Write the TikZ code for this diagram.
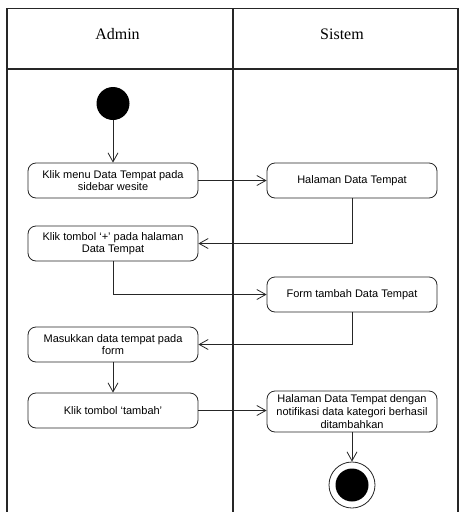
\documentclass[tikz,border=0pt]{standalone}
\usepackage{fontspec}
\setmainfont{Liberation Serif}
\newfontfamily\arialf[Ligatures=TeX]{Liberation Sans}
\usetikzlibrary{arrows.meta}
\begin{document}
\begin{tikzpicture}[x=1pt,y=-1pt,
  frame/.style={draw=black!85,line width=1.1pt},
  act/.style={draw=black!85,line width=0.8pt,rounded corners=8pt,minimum width=170pt,minimum height=35pt,
    align=center,font=\arialf\fontsize{11}{12.5}\selectfont,inner sep=2pt},
  hdr/.style={font=\fontsize{16}{18}\selectfont,anchor=base},
  arr/.style={draw=black!85,line width=0.8pt,-{Straight Barb[length=9pt,width=10pt,line width=0.8pt]}},
  ln/.style={draw=black!85,line width=0.8pt}]
\useasboundingbox (0,0) rectangle (460,512);
% swimlane frame
\draw[frame] (7,514) -- (7,8.5) -- (458,8.5) -- (458,514);
\draw[frame] (233,8.5) -- (233,514);
\draw[frame] (7,69) -- (458,69);
\node[hdr] (hadmin) at (117.5,39) {Admin};
\node[hdr] (hsis) at (342,39) {Sistem};
% nodes
\node[circle,fill=black,minimum size=33pt,inner sep=0pt] (start) at (113,103.5) {};
\node[act] (b1) at (113,180.5) {Klik menu Data Tempat pada\\sidebar wesite};
\node[act] (hal) at (352,180.5) {Halaman Data Tempat};
\node[act] (b2) at (113,243.5) {Klik tombol ‘+’ pada halaman\\Data Tempat};
\node[act] (form) at (352,294.5) {Form tambah Data Tempat};
\node[act] (b3) at (113,344.5) {Masukkan data tempat pada\\form};
\node[act] (b4) at (113,410.5) {Klik tombol ‘tambah’};
\node[act,minimum height=41pt,font=\arialf\fontsize{11}{13}\selectfont] (notif) at (352,411.5) {Halaman Data Tempat dengan\\notifikasi data kategori berhasil\\ditambahkan};
\node[circle,draw=black!85,line width=0.8pt,minimum size=46pt,inner sep=0pt] (end) at (352,485) {};
\node[circle,fill=black,minimum size=33pt,inner sep=0pt] (endin) at (end.center) {};
% connectors
\draw[arr] (start) -- (b1.north);
\draw[arr] (b1.east) -- (hal.west);
\draw[arr] (hal.south) |- (b2.east);
\draw[arr] (b2.south) |- (form.west);
\draw[arr] (form.south) |- (b3.east);
\draw[arr] (b3.south) -- (b4.north);
\draw[arr] (b4.east) -- (b4.east -| notif.west);
\draw[arr] (notif.south) -- (end.north);
\end{tikzpicture}
\end{document}
